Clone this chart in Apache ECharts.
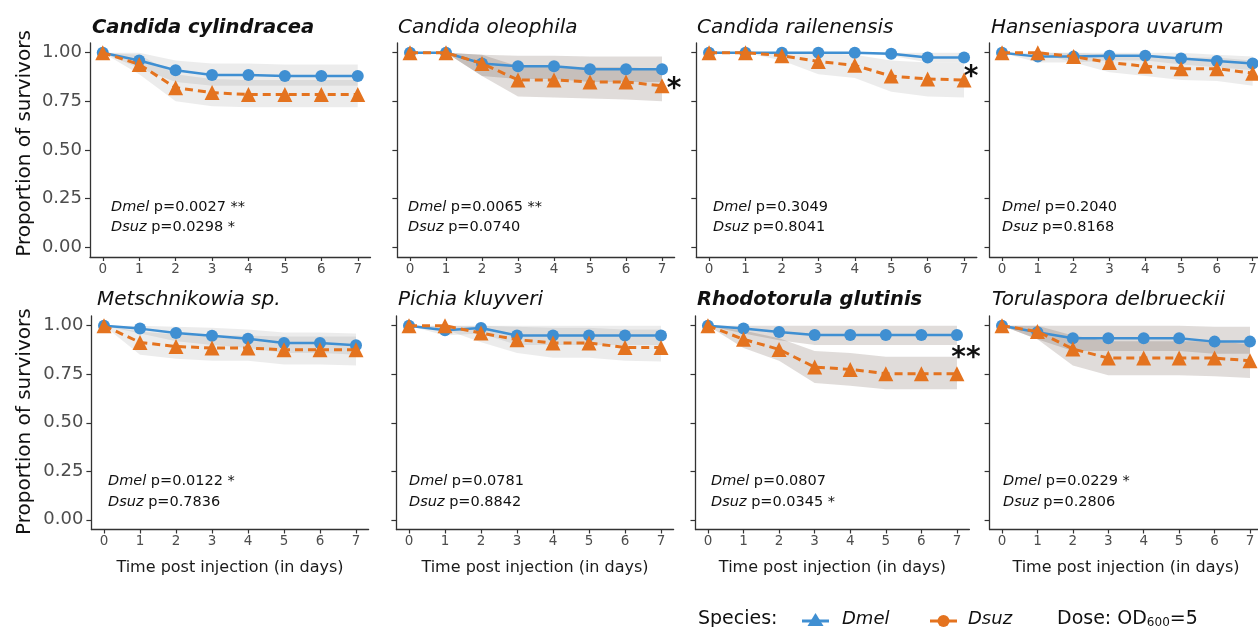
<!DOCTYPE html>
<html>
<head>
<meta charset="utf-8">
<script src="https://cdn.jsdelivr.net/npm/echarts@6/dist/echarts.min.js"></script>
<style>
  html, body { margin: 0; padding: 0; background: #fff; }
  #main { width: 1258px; height: 627px; }
</style>
</head>
<body>
<div id="main"></div>
<script>
// x axis: days post injection, y axis: proportion of survivors
var days = [0, 1, 2, 3, 4, 5, 6, 7];
var yTicks = [0, 0.25, 0.5, 0.75, 1];

var panelNames = [
  'Candida cylindracea', 'Candida oleophila', 'Candida railenensis', 'Hanseniaspora uvarum',
  'Metschnikowia sp.', 'Pichia kluyveri', 'Rhodotorula glutinis', 'Torulaspora delbrueckii'
];

// Dmel survival + confidence band, one row per panel
var dmelSurv = [
  [1, 0.96, 0.91, 0.885, 0.885, 0.88, 0.88, 0.88],
  [1, 1, 0.945, 0.93, 0.93, 0.915, 0.915, 0.915],
  [1, 1, 1, 1, 1, 0.995, 0.975, 0.975],
  [1, 0.98, 0.98, 0.985, 0.985, 0.97, 0.957, 0.945],
  [1, 0.985, 0.962, 0.948, 0.933, 0.911, 0.911, 0.899],
  [1, 0.976, 0.988, 0.95, 0.95, 0.95, 0.95, 0.95],
  [1, 0.986, 0.967, 0.952, 0.952, 0.952, 0.952, 0.952],
  [1, 0.966, 0.935, 0.935, 0.935, 0.935, 0.918, 0.918]
];
var dmelLow = [
  [1, 0.92, 0.85, 0.83, 0.83, 0.83, 0.83, 0.83],
  [1, 1, 0.88, 0.865, 0.865, 0.85, 0.85, 0.85],
  [1, 1, 1, 1, 1, 0.985, 0.95, 0.95],
  [1, 0.95, 0.95, 0.96, 0.96, 0.94, 0.925, 0.91],
  [1, 0.96, 0.92, 0.9, 0.885, 0.86, 0.86, 0.85],
  [1, 0.95, 0.96, 0.9, 0.9, 0.9, 0.9, 0.9],
  [1, 0.96, 0.925, 0.9, 0.9, 0.9, 0.9, 0.9],
  [1, 0.93, 0.87, 0.87, 0.87, 0.87, 0.855, 0.855]
];
var dmelHigh = [
  [1, 1, 0.96, 0.945, 0.945, 0.94, 0.94, 0.94],
  [1, 1, 0.99, 0.985, 0.985, 0.98, 0.98, 0.98],
  [1, 1, 1, 1, 1, 1, 1, 1],
  [1, 1, 1, 1, 1, 1, 0.99, 0.98],
  [1, 1, 0.995, 0.99, 0.98, 0.965, 0.965, 0.96],
  [1, 1, 1, 1, 1, 1, 1, 1],
  [1, 1, 1, 1, 1, 1, 1, 1],
  [1, 1, 1, 1, 1, 1, 0.995, 0.995]
];

// Dsuz survival + confidence band
var dsuzSurv = [
  [1, 0.94, 0.82, 0.795, 0.785, 0.785, 0.785, 0.785],
  [1, 1, 0.945, 0.86, 0.86, 0.85, 0.85, 0.83],
  [1, 1, 0.985, 0.955, 0.935, 0.88, 0.865, 0.86],
  [1, 1, 0.98, 0.95, 0.93, 0.918, 0.918, 0.895],
  [1, 0.914, 0.893, 0.885, 0.885, 0.876, 0.876, 0.876],
  [1, 1, 0.962, 0.928, 0.911, 0.911, 0.888, 0.888],
  [1, 0.93, 0.878, 0.787, 0.775, 0.753, 0.753, 0.753],
  [1, 0.97, 0.88, 0.833, 0.833, 0.833, 0.833, 0.82]
];
var dsuzLow = [
  [1, 0.89, 0.75, 0.725, 0.72, 0.72, 0.72, 0.72],
  [1, 1, 0.88, 0.775, 0.77, 0.765, 0.76, 0.75],
  [1, 1, 0.96, 0.89, 0.87, 0.8, 0.775, 0.77],
  [1, 1, 0.95, 0.9, 0.88, 0.86, 0.855, 0.83],
  [1, 0.85, 0.83, 0.82, 0.82, 0.8, 0.8, 0.795],
  [1, 0.98, 0.915, 0.86, 0.835, 0.835, 0.82, 0.815],
  [1, 0.885, 0.82, 0.705, 0.69, 0.672, 0.672, 0.672],
  [1, 0.93, 0.795, 0.745, 0.745, 0.745, 0.74, 0.73]
];
var dsuzHigh = [
  [1, 0.99, 0.89, 0.865, 0.86, 0.86, 0.86, 0.86],
  [1, 1, 0.99, 0.93, 0.93, 0.925, 0.925, 0.915],
  [1, 1, 1, 1, 0.99, 0.96, 0.95, 0.95],
  [1, 1, 1, 0.99, 0.98, 0.975, 0.975, 0.96],
  [1, 0.97, 0.955, 0.95, 0.95, 0.945, 0.945, 0.945],
  [1, 1, 1, 0.995, 0.99, 0.99, 0.98, 0.98],
  [1, 0.975, 0.935, 0.87, 0.86, 0.84, 0.84, 0.84],
  [1, 1, 0.95, 0.92, 0.92, 0.92, 0.92, 0.905]
];

var pDmel = ['0.0027 **', '0.0065 **', '0.3049', '0.2040', '0.0122 *', '0.0781', '0.0807', '0.0229 *'];
var pDsuz = ['0.0298 *', '0.0740', '0.8041', '0.8168', '0.7836', '0.8842', '0.0345 *', '0.2806'];
var signif = ['', '*', '*', '', '', '', '**', ''];

// layout (pixels)
var gridLeft = [90, 397.4, 696.3, 989.5, 91.4, 396.4, 695.5, 989.6];
var gridWidth = [280.5, 277.2, 280.5, 275.7, 277.2, 277.2, 273.9, 272.8];
var rowTop = [43, 316];
var rowHeight = [214, 213.5];
var titleX = [92, 398, 697, 991, 97, 398, 697, 992];
var titleY = [28, 300];
var boldTitle = [true, false, false, false, false, false, true, false];
var noteX = [111, 408, 713, 1002, 108, 409, 711, 1003];
var noteY = [[207.5, 227], [481.5, 502]];
var starPos = { 1: [674, 90], 2: [971, 78], 6: [966, 359] };

var blue = '#3f8fd2';
var orange = '#e4731f';
// ribbon tone per panel (some panels are rendered in a darker, warmer grey)
var bandLight = 'rgba(0,0,0,0.075)';
var bandDark = 'rgba(60,35,25,0.16)';
var darkBand = [false, true, false, false, false, false, true, true];
var axisColor = '#333';
var FONT = 'DejaVu Sans';

var chart = echarts.init(document.getElementById('main'));

var grids = [], xAxes = [], yAxes = [], series = [], graphics = [];

function pairs(arr) {
  return days.map(function (d, k) { return [d, arr[k]]; });
}

// ribbon drawn as one polygon through the axes' coordinate system
function makeBandRenderer(fill) {
  return function (params, api) {
    if (params.dataIndexInside !== 0) return;
    var n = params.dataInsideLength;
    var top = [], bottom = [];
    for (var k = 0; k < n; k++) {
      var x = api.value(0, k);
      top.push(api.coord([x, api.value(2, k)]));
      bottom.unshift(api.coord([x, api.value(1, k)]));
    }
    return {
      type: 'polygon',
      shape: { points: top.concat(bottom) },
      style: { fill: fill }
    };
  };
}

for (var i = 0; i < 8; i++) {
  var row = i < 4 ? 0 : 1;
  var col = i % 4;
  grids.push({
    left: gridLeft[i], width: gridWidth[i], top: rowTop[row], height: rowHeight[row],
    outerBoundsMode: 'none', containLabel: false
  });

  xAxes.push({
    gridIndex: i, type: 'value', min: -0.35, max: 7.35,
    splitLine: { show: false },
    axisLine: { onZero: false, lineStyle: { color: axisColor, width: 1.3 } },
    axisTick: { customValues: days, length: 4, lineStyle: { color: axisColor, width: 1.2 } },
    axisLabel: { customValues: days, margin: 5, color: '#4d4d4d', fontSize: 13.5, fontFamily: FONT },
    name: row === 1 ? 'Time post injection (in days)' : '',
    nameLocation: 'middle', nameGap: 30,
    nameTextStyle: { fontSize: 16, color: '#1a1a1a', fontFamily: FONT }
  });

  yAxes.push({
    gridIndex: i, type: 'value', min: -0.05, max: 1.05,
    splitLine: { show: false },
    axisLine: { show: true, onZero: false, lineStyle: { color: axisColor, width: 1.3 } },
    axisTick: { show: true, customValues: yTicks, length: 5, lineStyle: { color: axisColor, width: 1.2 } },
    axisLabel: {
      show: col === 0, customValues: yTicks, margin: 8, color: '#4d4d4d', fontSize: 18, fontFamily: FONT,
      formatter: function (v) { return v.toFixed(2); }
    }
  });

  var bandRender = makeBandRenderer(darkBand[i] ? bandDark : bandLight);
  [[dmelLow[i], dmelHigh[i]], [dsuzLow[i], dsuzHigh[i]]].forEach(function (r) {
    series.push({
      type: 'custom', name: 'band', xAxisIndex: i, yAxisIndex: i, silent: true, z: 1,
      renderItem: bandRender,
      encode: { x: 0, y: [1, 2] },
      data: days.map(function (d, k) { return [d, r[0][k], r[1][k]]; })
    });
  });

  series.push({
    type: 'line', name: 'Dmel', xAxisIndex: i, yAxisIndex: i,
    data: pairs(dmelSurv[i]), symbol: 'circle', symbolSize: 12,
    itemStyle: { color: blue }, lineStyle: { color: blue, width: 2.5 }, z: 3
  });
  series.push({
    type: 'line', name: 'Dsuz', xAxisIndex: i, yAxisIndex: i,
    data: pairs(dsuzSurv[i]), symbol: 'triangle', symbolSize: 15,
    itemStyle: { color: orange }, lineStyle: { color: orange, width: 3, type: [8, 5] }, z: 4
  });

  graphics.push({
    type: 'text', x: titleX[i], y: titleY[row],
    style: {
      text: panelNames[i], fontFamily: FONT, fontStyle: 'italic',
      fontWeight: boldTitle[i] ? 'bold' : 'normal', fontSize: boldTitle[i] ? 19.5 : 20,
      fill: '#111', verticalAlign: 'middle'
    }
  });
  graphics.push({
    type: 'text', x: noteX[i], y: noteY[row][0],
    style: {
      text: '{i|Dmel} p=' + pDmel[i], fontFamily: FONT, fontSize: 14.5, fill: '#111', verticalAlign: 'middle',
      rich: { i: { fontStyle: 'italic', fontFamily: FONT, fontSize: 14.5, fill: '#111' } }
    }
  });
  graphics.push({
    type: 'text', x: noteX[i], y: noteY[row][1],
    style: {
      text: '{i|Dsuz} p=' + pDsuz[i], fontFamily: FONT, fontSize: 14.5, fill: '#111', verticalAlign: 'middle',
      rich: { i: { fontStyle: 'italic', fontFamily: FONT, fontSize: 14.5, fill: '#111' } }
    }
  });
  if (signif[i]) {
    graphics.push({
      type: 'text', x: starPos[i][0], y: starPos[i][1],
      style: { text: signif[i], fontFamily: FONT, fontWeight: 'bold', fontSize: 28, fill: '#111', align: 'center', verticalAlign: 'middle' }
    });
  }
}

// y axis titles
[143.5, 421.7].forEach(function (cy) {
  graphics.push({
    type: 'text', x: 25, y: cy, rotation: Math.PI / 2,
    style: { text: 'Proportion of survivors', fontFamily: FONT, fontSize: 20, fill: '#111', align: 'center', verticalAlign: 'middle' }
  });
});

// bottom legend (keys as in the original figure)
var legY = 621;
graphics.push(
  { type: 'text', x: 698, y: 619, style: { text: 'Species:', fontFamily: FONT, fontSize: 19, fill: '#111', verticalAlign: 'middle' } },
  { type: 'line', shape: { x1: 802, y1: legY, x2: 829, y2: legY }, style: { stroke: blue, lineWidth: 3 } },
  { type: 'polygon', shape: { points: [[815.5, 613], [823.5, 626], [807.5, 626]] }, style: { fill: blue } },
  { type: 'text', x: 842, y: 619, style: { text: 'Dmel', fontFamily: FONT, fontStyle: 'italic', fontSize: 18, fill: '#111', verticalAlign: 'middle' } },
  { type: 'line', shape: { x1: 930, y1: legY, x2: 957, y2: legY }, style: { stroke: orange, lineWidth: 3 } },
  { type: 'circle', shape: { cx: 943.5, cy: legY, r: 6 }, style: { fill: orange } },
  { type: 'text', x: 968, y: 619, style: { text: 'Dsuz', fontFamily: FONT, fontStyle: 'italic', fontSize: 18, fill: '#111', verticalAlign: 'middle' } },
  {
    type: 'text', x: 1057, y: 619,
    style: {
      text: 'Dose: OD{s|600}=5', fontFamily: FONT, fontSize: 19, fill: '#111', verticalAlign: 'middle',
      rich: { s: { fontSize: 12, fontFamily: FONT, fill: '#111', verticalAlign: 'bottom', lineHeight: 14 } }
    }
  }
);

var option = {
  animation: false,
  textStyle: { fontFamily: FONT },
  grid: grids,
  xAxis: xAxes,
  yAxis: yAxes,
  graphic: graphics,
  series: series
};
chart.setOption(option);
</script>
</body>
</html>
